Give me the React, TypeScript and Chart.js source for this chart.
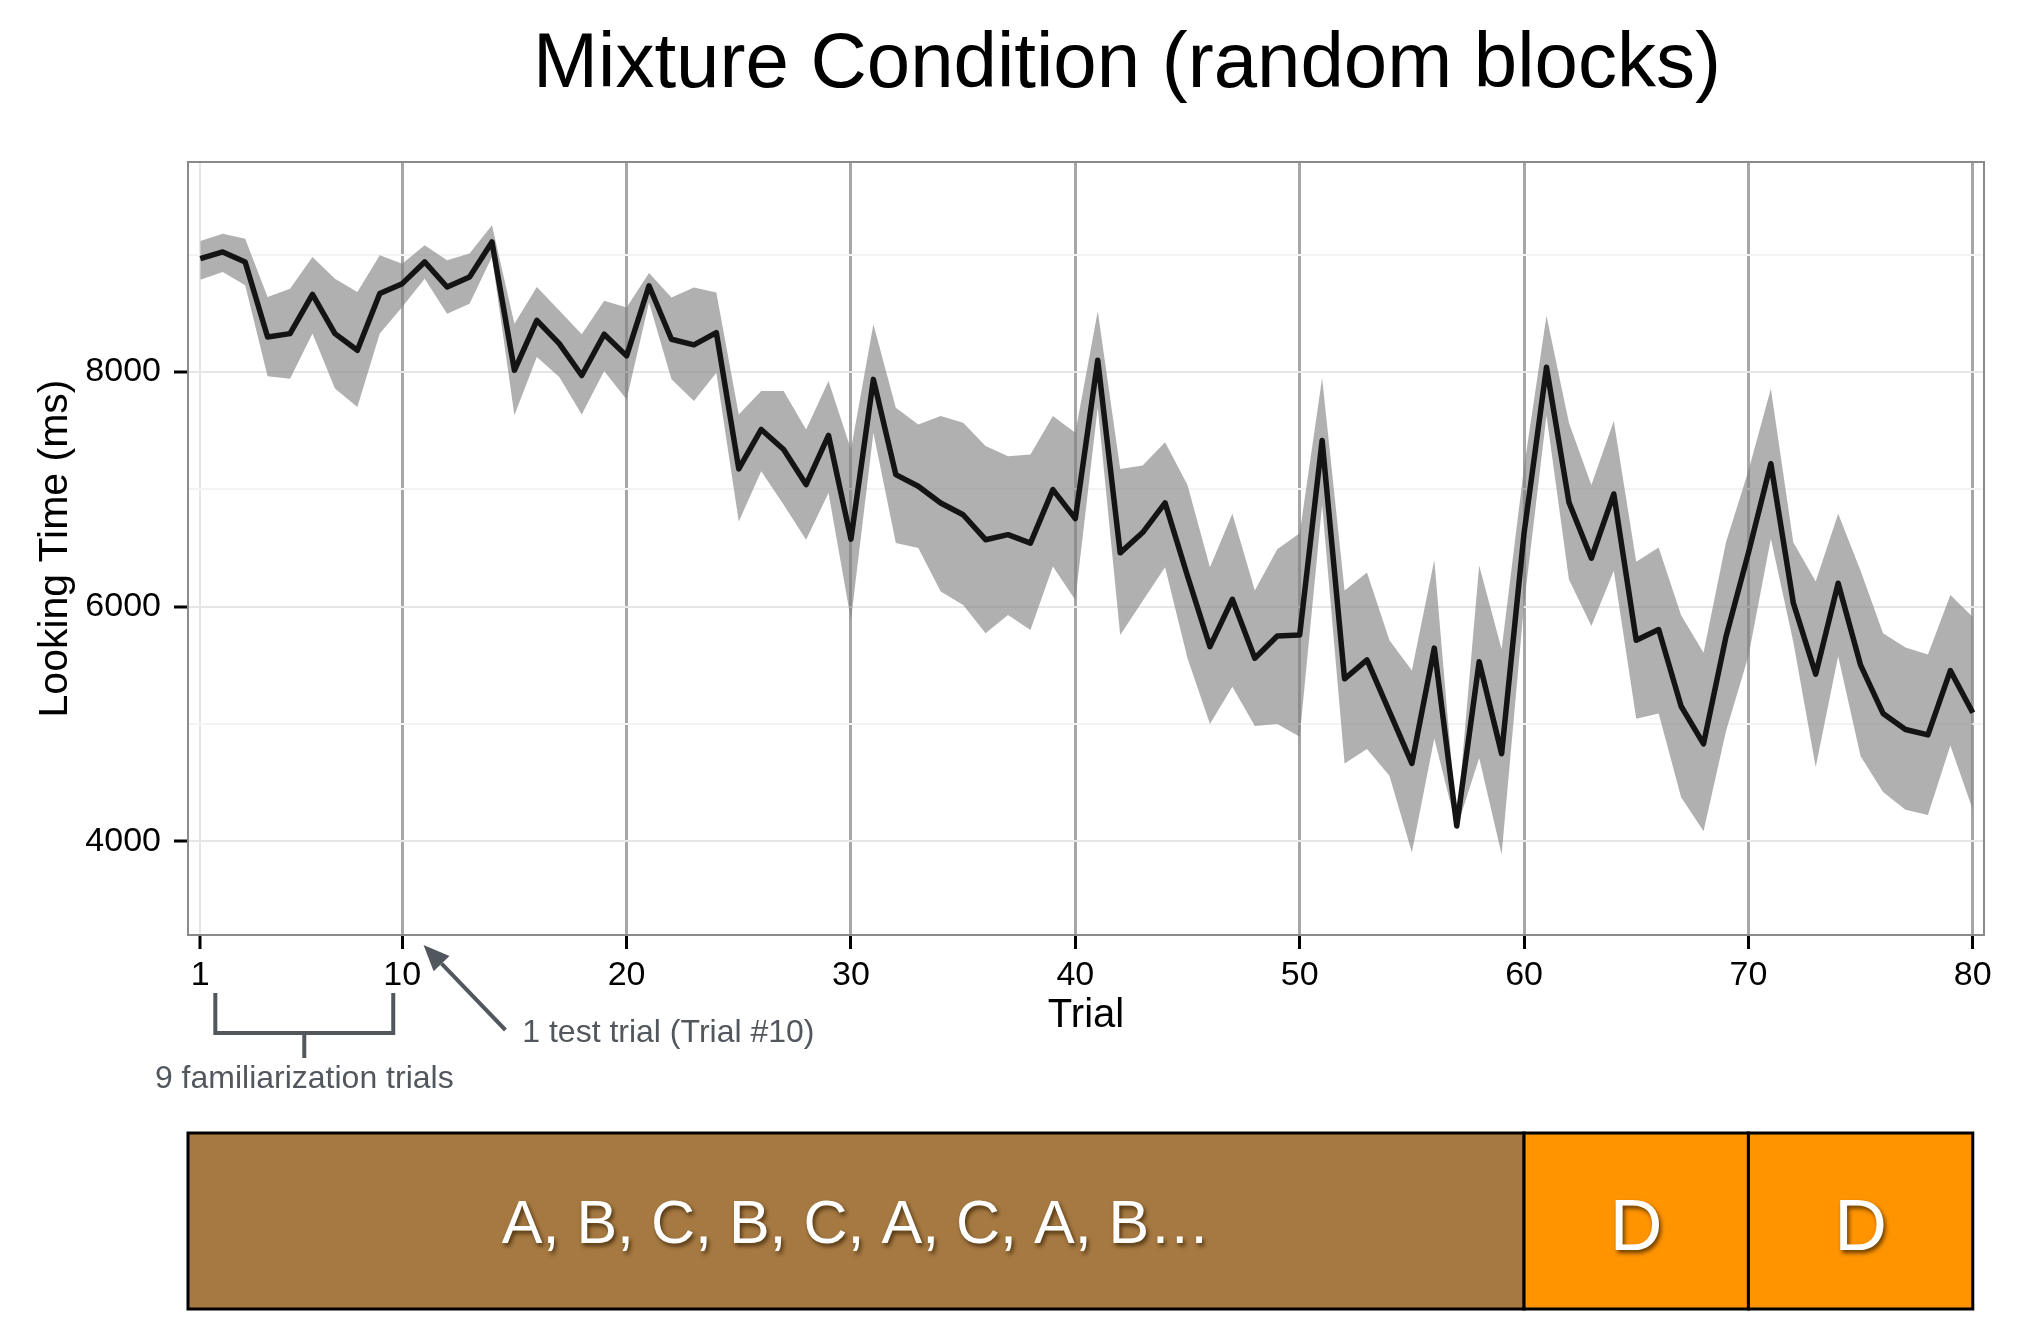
import { useEffect, useRef } from 'react'
import { Chart, registerables } from 'chart.js'
import type { Plugin } from 'chart.js'

Chart.register(...registerables)

const trials = Array.from({ length: 80 }, (_, i) => i + 1)

// mean looking time per trial (ms)
const meanMs = [
  8966, 9023, 8938, 8298, 8327, 8662, 8327, 8185, 8668, 8753,
  8938, 8724, 8810, 9108, 8014, 8440, 8241, 7970, 8322, 8137,
  8735, 8279, 8231, 8336, 7174, 7510, 7339, 7040, 7459, 6575,
  7937, 7125, 7026, 6883, 6783, 6570, 6613, 6541, 6997, 6750,
  8100, 6458, 6631, 6884, 6260, 5658, 6062, 5560, 5749, 5758,
  7416, 5384, 5545, 5104, 4663, 5646, 4129, 5530, 4745, 6625,
  8040, 6890, 6412, 6960, 5713, 5804, 5150, 4830, 5743, 6458,
  7218, 6032, 5424, 6199, 5500, 5089, 4952, 4906, 5454, 5095,
]
// upper edge of the error ribbon
const upperMs = [
  9116, 9179, 9136, 8639, 8710, 8980, 8795, 8682, 8994, 8923,
  9080, 8952, 9009, 9250, 8412, 8724, 8525, 8322, 8607, 8550,
  8843, 8635, 8721, 8678, 7638, 7838, 7838, 7510, 7923, 7339,
  8407, 7695, 7553, 7624, 7567, 7368, 7282, 7296, 7624, 7481,
  8520, 7173, 7203, 7401, 7036, 6336, 6792, 6138, 6488, 6625,
  7948, 6138, 6290, 5713, 5454, 6397, 4150, 6351, 5637, 7188,
  8480, 7568, 7036, 7583, 6382, 6503, 5925, 5606, 6549, 7157,
  7857, 6549, 6214, 6792, 6306, 5773, 5652, 5591, 6099, 5910,
]
// lower edge of the error ribbon
const lowerMs = [
  8787, 8852, 8739, 7963, 7943, 8327, 7858, 7702, 8327, 8554,
  8795, 8497, 8582, 8980, 7631, 8128, 7957, 7638, 8009, 7766,
  8592, 7937, 7752, 7994, 6726, 7154, 6869, 6570, 6969, 5886,
  7481, 6541, 6499, 6128, 6014, 5772, 5929, 5801, 6342, 6057,
  7700, 5758, 6047, 6336, 5560, 4998, 5317, 4982, 4998, 4891,
  6868, 4663, 4785, 4557, 3903, 4876, 4110, 4709, 3887, 6017,
  7629, 6230, 5834, 6306, 5043, 5089, 4374, 4085, 4937, 5576,
  6579, 5697, 4633, 5576, 4724, 4420, 4268, 4222, 4815, 4268,
]

const xTicks = [1, 10, 20, 30, 40, 50, 60, 70, 80]
const yGrid = [4000, 5000, 6000, 7000, 8000, 9000]
const yLabels = [4000, 6000, 8000]

const blockLabels = ['A, B, C, B, C, A, C, A, B…', 'D', 'D']
const blockEnds = [60, 70, 80]

const FONT = '"Liberation Sans", Arial, Helvetica, sans-serif'
const ANNOT = '#52575d'

const decor: Plugin<'line'> = {
  id: 'decor',
  afterDatasetsDraw(chart) {
    const { ctx, chartArea: a } = chart
    ctx.save()
    ctx.strokeStyle = '#8a8a8a'
    ctx.lineWidth = 2
    ctx.strokeRect(a.left, a.top, a.right - a.left, a.bottom - a.top)
    ctx.restore()
  },
  afterDraw(chart) {
    const { ctx, chartArea: a } = chart
    const x = chart.scales.x
    ctx.save()

    // title
    ctx.fillStyle = '#000'
    ctx.font = `78px ${FONT}`
    ctx.textAlign = 'center'
    ctx.textBaseline = 'alphabetic'
    ctx.fillText('Mixture Condition (random blocks)', 1127, 87)

    // bracket under the familiarization trials
    const bl = x.getPixelForValue(1.67)
    const br = x.getPixelForValue(9.6)
    const bm = (bl + br) / 2
    ctx.strokeStyle = ANNOT
    ctx.lineWidth = 4
    ctx.lineCap = 'butt'
    ctx.beginPath()
    ctx.moveTo(bl, 993); ctx.lineTo(bl, 1033); ctx.lineTo(br, 1033); ctx.lineTo(br, 993)
    ctx.moveTo(bm, 1033); ctx.lineTo(bm, 1058)
    ctx.stroke()
    ctx.fillStyle = ANNOT
    ctx.font = `32px ${FONT}`
    ctx.fillText('9 familiarization trials', bm, 1088)

    // arrow to the test trial
    const tipX = x.getPixelForValue(10.95), tipY = 945
    const tailX = x.getPixelForValue(14.6), tailY = 1030
    const ang = Math.atan2(tipY - tailY, tipX - tailX)
    const hl = 26, hw = 11
    const bx = tipX - hl * Math.cos(ang), by = tipY - hl * Math.sin(ang)
    ctx.beginPath()
    ctx.moveTo(tailX, tailY); ctx.lineTo(bx, by)
    ctx.stroke()
    ctx.beginPath()
    ctx.moveTo(tipX, tipY)
    ctx.lineTo(bx + hw * Math.sin(ang), by - hw * Math.cos(ang))
    ctx.lineTo(bx - hw * Math.sin(ang), by + hw * Math.cos(ang))
    ctx.closePath()
    ctx.fill()
    ctx.textAlign = 'left'
    ctx.fillText('1 test trial (Trial #10)', x.getPixelForValue(15.35), 1042)

    // block sequence bar
    const top = 1133, bottom = 1309
    const fills = ['#a67942', '#ff9400', '#ff9400']
    const sizes = [61, 73, 73]
    const baselines = [1243, 1250, 1250]
    let left = a.left
    blockEnds.forEach((end, i) => {
      const right = x.getPixelForValue(end)
      ctx.fillStyle = fills[i]
      ctx.fillRect(left, top, right - left, bottom - top)
      ctx.save()
      ctx.fillStyle = '#fff'
      ctx.font = `${sizes[i]}px ${FONT}`
      ctx.textAlign = 'center'
      ctx.shadowColor = 'rgba(50,30,0,0.75)'
      ctx.shadowOffsetX = 2
      ctx.shadowOffsetY = 3
      ctx.shadowBlur = 4
      ctx.fillText(blockLabels[i], (left + right) / 2, baselines[i])
      ctx.restore()
      ctx.strokeStyle = '#000'
      ctx.lineWidth = 3
      ctx.strokeRect(left, top, right - left, bottom - top)
      left = right
    })

    ctx.restore()
  },
}

export default function App() {
  const canvasRef = useRef<HTMLCanvasElement>(null)
  const chartRef = useRef<Chart | null>(null)

  useEffect(() => {
    if (!canvasRef.current) return
    if (chartRef.current) chartRef.current.destroy()
    Chart.defaults.font.family = FONT

    const pts = (vals: number[]) => trials.map((t, i) => ({ x: t, y: vals[i] }))

    chartRef.current = new Chart(canvasRef.current, {
      type: 'line',
      data: {
        datasets: [
          // first dataset is drawn last, so the mean line sits on top of the ribbon
          { label: 'Looking time', data: pts(meanMs), borderColor: '#141414', borderWidth: 5.5, pointRadius: 0, fill: false, borderJoinStyle: 'round', borderCapStyle: 'butt' },
          { label: 'upper', data: pts(upperMs), borderWidth: 0, pointRadius: 0, fill: '+1', backgroundColor: 'rgba(128,128,128,0.62)' },
          { label: 'lower', data: pts(lowerMs), borderWidth: 0, pointRadius: 0, fill: false },
        ],
      },
      options: {
        animation: false,
        responsive: true,
        maintainAspectRatio: false,
        events: [],
        layout: { padding: { left: 20, top: 162, right: 57, bottom: 271 } },
        plugins: {
          legend: { display: false },
          title: { display: false },
          tooltip: { enabled: false },
        },
        scales: {
          x: {
            type: 'linear',
            min: 0.452,
            max: 80.5,
            afterBuildTicks: axis => { axis.ticks = xTicks.map(v => ({ value: v })) },
            afterFit: axis => { axis.height = 120 },
            border: { display: false },
            grid: {
              color: c => (c.tick && c.tick.value === 1 ? '#e6e6e6' : '#a6a6a6'),
              lineWidth: c => (c.tick && c.tick.value === 1 ? 2 : 3),
              drawTicks: true,
              tickLength: 14,
              tickWidth: 3,
              tickColor: '#000',
            },
            ticks: { color: '#000', font: { size: 34 }, padding: 6, maxRotation: 0, autoSkip: false },
            title: { display: true, text: 'Trial', color: '#000', font: { size: 40 }, padding: { top: 0, bottom: 15 } },
          },
          y: {
            min: 3200,
            max: 9790,
            afterBuildTicks: axis => { axis.ticks = yGrid.map(v => ({ value: v })) },
            afterFit: axis => { axis.width = 168 },
            border: { display: false },
            grid: {
              color: c => (c.tick && yLabels.includes(c.tick.value) ? '#e6e6e6' : '#f3f3f3'),
              lineWidth: 2,
              drawTicks: true,
              tickLength: 14,
              tickWidth: 3,
              tickColor: c => (c.tick && yLabels.includes(c.tick.value) ? '#000' : 'rgba(0,0,0,0)'),
            },
            ticks: {
              color: '#000',
              font: { size: 34 },
              padding: 13,
              autoSkip: false,
              callback: v => (yLabels.includes(Number(v)) ? String(v) : ''),
            },
            title: { display: true, text: 'Looking Time (ms)', color: '#000', font: { size: 41 }, padding: { top: 11, bottom: 0 } },
          },
        },
      },
      plugins: [decor],
    })

    return () => { chartRef.current?.destroy() }
  }, [])

  return (
    <div style={{ position: 'fixed', left: 0, top: 0, width: 2041, height: 1326, background: '#fff' }}>
      <canvas ref={canvasRef} />
    </div>
  )
}
